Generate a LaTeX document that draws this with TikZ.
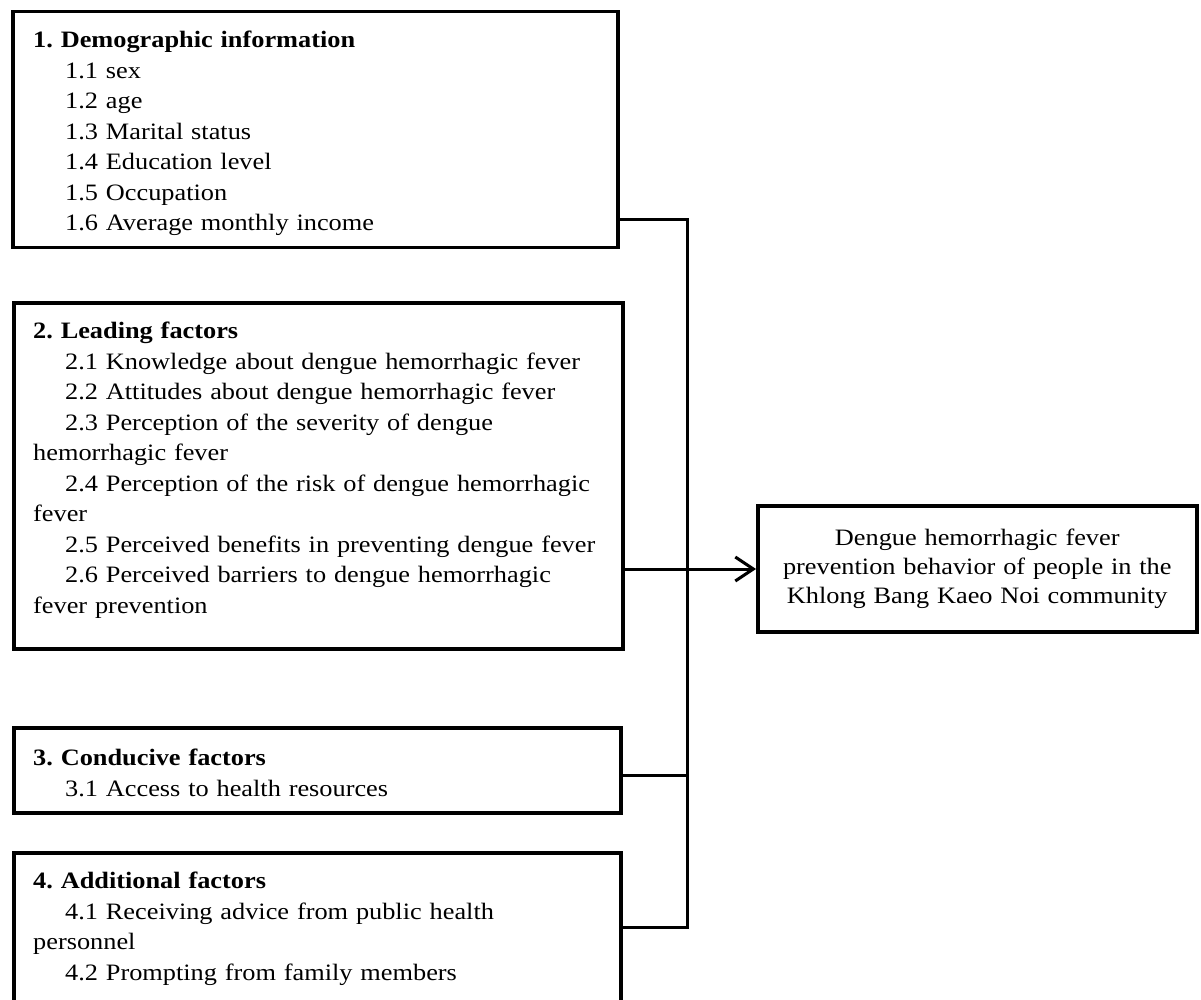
\documentclass[tikz,border=0pt]{standalone}
\usepackage{fontspec}
\setmainfont{Liberation Serif}[FakeStretch=1.12]
\usetikzlibrary{arrows.meta}

\tikzset{
  factorframe/.style={draw=black, line width=3.5pt, anchor=north west,
    inner sep=0pt},
  factortext/.style={anchor=north west, align=left, text width=570pt,
    inner sep=0pt, font=\fontsize{23.5}{30.5}\selectfont},
  outcomebox/.style={draw=black, line width=3.5pt, anchor=west, align=center,
    text width=415pt, inner xsep=12pt, inner ysep=0pt, minimum height=126pt,
    font=\fontsize{23.5}{29}\selectfont},
  link/.style={line width=3pt}
}
\newcommand{\itemind}{\hspace*{32pt}}

\begin{document}
\frenchspacing
\begin{tikzpicture}[x=1pt, y=-1pt]
  \useasboundingbox (0,0) rectangle (1201,1000);
  \clip (0,0) rectangle (1201,1000);

  % Factor Boxes (left column)
  \node[factorframe, minimum width=605pt, minimum height=236pt] (demo) at (11,10) {};
  \node[factortext] (demo text) at (33,31)
    {\textbf{1. Demographic information}\\
     \itemind 1.1 sex\\
     \itemind 1.2 age\\
     \itemind 1.3 Marital status\\
     \itemind 1.4 Education level\\
     \itemind 1.5 Occupation\\
     \itemind 1.6 Average monthly income};

  \node[factorframe, minimum width=609pt, minimum height=346pt] (leading) at (12,301) {};
  \node[factortext] (leading text) at (33,322)
    {\textbf{2. Leading factors}\\
     \itemind 2.1 Knowledge about dengue hemorrhagic fever\\
     \itemind 2.2 Attitudes about dengue hemorrhagic fever\\
     \itemind 2.3 Perception of the severity of dengue\\
     hemorrhagic fever\\
     \itemind 2.4 Perception of the risk of dengue hemorrhagic\\
     fever\\
     \itemind 2.5 Perceived benefits in preventing dengue fever\\
     \itemind 2.6 Perceived barriers to dengue hemorrhagic\\
     fever prevention};

  \node[factorframe, minimum width=607pt, minimum height=85pt] (conducive) at (12,726) {};
  \node[factortext] (conducive text) at (33,749)
    {\textbf{3. Conducive factors}\\
     \itemind 3.1 Access to health resources};

  \node[factorframe, minimum width=607pt, minimum height=152pt] (additional) at (12,851) {};
  \node[factortext] (additional text) at (33,872)
    {\textbf{4. Additional factors}\\
     \itemind 4.1 Receiving advice from public health\\
     personnel\\
     \itemind 4.2 Prompting from family members};

  % Outcome Box
  \node[outcomebox] (outcome) at (756,569)
    {Dengue hemorrhagic fever\\
     prevention behavior of people in the\\
     Khlong Bang Kaeo Noi community};

  % Collecting Bus
  \coordinate (bus top) at (687,220);
  \coordinate (bus bottom) at (687,927);
  \coordinate (bus mid) at (687,775);

  \draw[link] (demo.east |- bus top) -- (bus top) -- (bus bottom)
    -- (additional.east |- bus bottom);
  \draw[link] (conducive.east |- bus mid) -- (bus mid);

  % Arrow to Outcome
  \draw[link, -{Straight Barb[length=18pt, width=24pt, line width=3pt]}]
    (leading.east |- outcome.west) -- (outcome.west);

\end{tikzpicture}
\end{document}
